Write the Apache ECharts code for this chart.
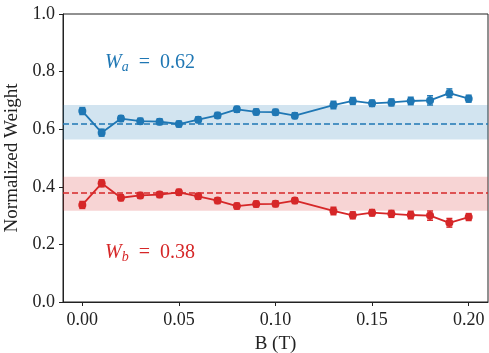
<!DOCTYPE html>
<html>
<head>
<meta charset="utf-8">
<script src="https://cdn.jsdelivr.net/npm/echarts@6/dist/echarts.min.js"></script>
<style>
html,body{margin:0;padding:0;background:#fff;}
#main{width:489px;height:353px;}
</style>
</head>
<body>
<div id="main"></div>
<script>
// Data
const fieldB = [0.00, 0.01, 0.02, 0.03, 0.04, 0.05, 0.06, 0.07, 0.08, 0.09, 0.10, 0.11, 0.13, 0.14, 0.15, 0.16, 0.17, 0.18, 0.19, 0.20];
const weightA = [0.663, 0.588, 0.637, 0.628, 0.626, 0.618, 0.633, 0.648, 0.669, 0.660, 0.659, 0.647, 0.684, 0.698, 0.690, 0.693, 0.698, 0.700, 0.725, 0.706];
const errA    = [0.012, 0.012, 0.010, 0.010, 0.010, 0.010, 0.010, 0.010, 0.010, 0.010, 0.010, 0.010, 0.013, 0.012, 0.011, 0.012, 0.013, 0.016, 0.015, 0.012];
const weightB = [0.337, 0.412, 0.362, 0.370, 0.373, 0.381, 0.367, 0.352, 0.333, 0.340, 0.341, 0.352, 0.316, 0.301, 0.310, 0.306, 0.302, 0.300, 0.275, 0.295];
const errB    = [0.012, 0.012, 0.010, 0.010, 0.010, 0.010, 0.010, 0.010, 0.010, 0.010, 0.010, 0.010, 0.013, 0.012, 0.011, 0.012, 0.013, 0.016, 0.015, 0.012];
const meanA = 0.624, stdA = 0.060;
const meanB = 0.376, stdB = 0.059;
const xTicks = [0.00, 0.05, 0.10, 0.15, 0.20];
const yTicks = [0.0, 0.2, 0.4, 0.6, 0.8, 1.0];

const blue = '#1f77b4', red = '#d62728';
const serif = '"Liberation Serif", "DejaVu Serif", serif';
const ink = '#222';

function pairs(vals){ return fieldB.map((b,i)=>[b, vals[i]]); }
function triples(vals, errs){ return fieldB.map((b,i)=>[b, vals[i], errs[i]]); }

function errRender(color){
  return function(params, api){
    const x = api.value(0), y = api.value(1), e = api.value(2);
    const lo = api.coord([x, y - e]);
    const hi = api.coord([x, y + e]);
    const cw = 3;
    const st = {stroke: color, lineWidth: 1.5};
    return {type:'group', children:[
      {type:'line', shape:{x1:lo[0], y1:lo[1], x2:hi[0], y2:hi[1]}, style:st},
      {type:'line', shape:{x1:lo[0]-cw, y1:lo[1], x2:lo[0]+cw, y2:lo[1]}, style:st},
      {type:'line', shape:{x1:hi[0]-cw, y1:hi[1], x2:hi[0]+cw, y2:hi[1]}, style:st}
    ]};
  };
}

const chart = echarts.init(document.getElementById('main'), null, {renderer:'canvas'});
chart.setOption({
  animation:false,
  backgroundColor:'#fff',
  grid:{left:63, top:14, width:425, height:288, outerBoundsMode:'none', containLabel:false,
        show:true, borderColor:ink, borderWidth:1, backgroundColor:'transparent'},
  xAxis:{
    type:'value', min:-0.01, max:0.21,
    name:'B (T)', nameLocation:'middle', nameGap:33,
    nameTextStyle:{fontFamily:serif, fontSize:19, color:ink},
    axisLine:{show:true, onZero:false, lineStyle:{color:ink, width:1}},
    axisTick:{show:true, length:4, customValues:xTicks, lineStyle:{color:ink}},
    axisLabel:{customValues:xTicks, formatter:v=>v.toFixed(2), fontFamily:serif, fontSize:18, color:ink, margin:9},
    splitLine:{show:false}
  },
  yAxis:{
    type:'value', min:0, max:1, interval:0.2,
    name:'Normalized Weight', nameLocation:'middle', nameGap:37,
    nameTextStyle:{fontFamily:serif, fontSize:19, color:ink},
    axisLine:{show:true, onZero:false, lineStyle:{color:ink, width:1}},
    axisTick:{show:true, length:4, lineStyle:{color:ink}},
    axisLabel:{formatter:v=>v.toFixed(1), fontFamily:serif, fontSize:18, color:ink, margin:8},
    splitLine:{show:false}
  },
  series:[
    {
      type:'line', data:pairs(weightA), symbol:'circle', symbolSize:8,
      itemStyle:{color:blue}, lineStyle:{color:blue, width:1.8}, z:5,
      markArea:{silent:true, itemStyle:{color:'rgba(31,119,180,0.2)'}, data:[[{yAxis:meanA-stdA},{yAxis:meanA+stdA}]]},
      markLine:{silent:true, symbol:'none', label:{show:false}, lineStyle:{color:blue, type:[6,3], width:1.5}, data:[{yAxis:meanA}]}
    },
    {type:'custom', renderItem:errRender(blue), data:triples(weightA, errA), z:4, encode:{x:0, y:1}},
    {
      type:'line', data:pairs(weightB), symbol:'circle', symbolSize:8,
      itemStyle:{color:red}, lineStyle:{color:red, width:1.8}, z:5,
      markArea:{silent:true, itemStyle:{color:'rgba(214,39,40,0.2)'}, data:[[{yAxis:meanB-stdB},{yAxis:meanB+stdB}]]},
      markLine:{silent:true, symbol:'none', label:{show:false}, lineStyle:{color:red, type:[6,3], width:1.5}, data:[{yAxis:meanB}]}
    },
    {type:'custom', renderItem:errRender(red), data:triples(weightB, errB), z:4, encode:{x:0, y:1}}
  ],
  graphic:[
    {type:'text', left:105, top:53, style:{
      text:'{w|W}{s|a}{n|  =  0.62}', fill:blue,
      rich:{
        w:{fontFamily:serif, fontStyle:'italic', fontSize:20, fill:blue},
        s:{fontFamily:serif, fontStyle:'italic', fontSize:14, fill:blue, padding:[8,0,0,0]},
        n:{fontFamily:serif, fontSize:20, fill:blue}
      }}},
    {type:'text', left:105, top:243, style:{
      text:'{w|W}{s|b}{n|  =  0.38}', fill:red,
      rich:{
        w:{fontFamily:serif, fontStyle:'italic', fontSize:20, fill:red},
        s:{fontFamily:serif, fontStyle:'italic', fontSize:14, fill:red, padding:[8,0,0,0]},
        n:{fontFamily:serif, fontSize:20, fill:red}
      }}}
  ]
});
</script>
</body>
</html>
